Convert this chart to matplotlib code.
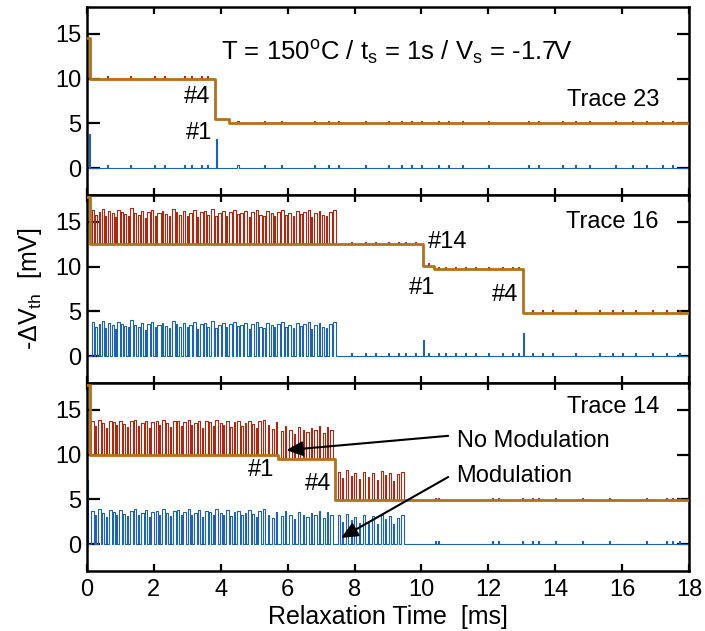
import numpy as np
import matplotlib.pyplot as plt

plt.rcParams['font.family'] = ['Liberation Sans', 'DejaVu Sans']
plt.rcParams['mathtext.fontset'] = 'custom'
plt.rcParams['mathtext.rm'] = 'Liberation Sans'
plt.rcParams['mathtext.it'] = 'Liberation Sans'
plt.rcParams['mathtext.default'] = 'regular'

T_END = 18.0

# step fits (brown): edges [ms] and levels [mV]
t23_step_t = [0.0, 0.1, 3.83, 4.25]
t23_step_v = [14.5, 10.0, 5.5, 5.0]
t16_step_t = [0.0, 0.1, 10.05, 10.38, 13.05]
t16_step_v = [17.8, 12.5, 10.1, 9.7, 4.8]
t14_step_t = [0.0, 0.1, 5.7, 7.42]
t14_step_v = [17.8, 10.0, 9.5, 4.9]

# telegraph pulses (high state start / end) [ms]
t16_on = [0.15, 0.25, 0.36, 0.44, 0.55, 0.63, 0.74, 0.84, 0.90, 1.02, 1.10, 1.22,
          1.30, 1.41, 1.52, 1.61, 1.73, 1.80, 1.92, 2.02, 2.10, 2.24, 2.33, 2.45,
          2.53, 2.66, 2.75, 2.86, 2.98, 3.06, 3.18, 3.30, 3.37, 3.50, 3.60, 3.71,
          3.84, 3.93, 4.04, 4.17, 4.25, 4.38, 4.49, 4.58, 4.70, 4.83, 4.91, 5.05,
          5.15, 5.27, 5.36, 5.50, 5.60, 5.68, 5.81, 5.93, 6.02, 6.15, 6.24, 6.38,
          6.47, 6.60, 6.71, 6.79, 6.93, 7.03, 7.15, 7.24, 7.36]
t16_off = [0.22, 0.31, 0.40, 0.52, 0.58, 0.70, 0.80, 0.86, 0.98, 1.07, 1.18, 1.25,
           1.38, 1.46, 1.57, 1.68, 1.75, 1.88, 1.98, 2.05, 2.20, 2.28, 2.40, 2.49,
           2.62, 2.70, 2.81, 2.94, 3.02, 3.14, 3.25, 3.33, 3.46, 3.56, 3.66, 3.80,
           3.88, 4.00, 4.12, 4.20, 4.33, 4.45, 4.53, 4.66, 4.78, 4.86, 5.00, 5.10,
           5.22, 5.31, 5.45, 5.56, 5.63, 5.76, 5.88, 5.97, 6.10, 6.19, 6.33, 6.42,
           6.55, 6.66, 6.74, 6.88, 6.98, 7.10, 7.19, 7.32, 7.45]
# pulse-to-pulse height deviation [mV]
t16_dh = [0.3, -0.2, 0.1, 0.4, -0.4, 0.2, 0.0, -0.5, 0.3, 0.1,
          -0.1, -0.3, 0.5, 0.0, -0.2, 0.2, -0.6, 0.1, 0.3, -0.3,
          0.0, 0.2, -0.1, -0.4, 0.4, 0.1, -0.2, 0.2, -0.3, 0.0,
          0.3, -0.5, 0.1, 0.2, -0.2, 0.4, -0.4, 0.0, 0.2, -0.3,
          0.1, 0.3, -0.1, 0.0, 0.2, -0.5, 0.1, 0.3, -0.2, -0.4,
          0.2, 0.0, -0.3, 0.1, 0.3, -0.2, 0.0, -0.4, 0.2, -0.1,
          0.1, 0.3, -0.5, 0.0, 0.2, -0.2, -0.4, 0.1, 0.3]

t14_on = [0.12, 0.24, 0.33, 0.45, 0.57, 0.65, 0.78, 0.88, 0.96, 1.09, 1.20, 1.28,
          1.41, 1.52, 1.60, 1.73, 1.84, 1.92, 2.05, 2.16, 2.24, 2.37, 2.48, 2.56,
          2.69, 2.80, 2.88, 3.01, 3.12, 3.20, 3.33, 3.44, 3.52, 3.65, 3.76, 3.84,
          3.97, 4.08, 4.16, 4.29, 4.40, 4.48, 4.61, 4.72, 4.80, 4.93, 5.04, 5.12,
          5.25, 5.40, 5.52, 5.66, 5.80, 5.93, 6.05, 6.20, 6.30, 6.45, 6.55, 6.70,
          6.80, 6.95, 7.05, 7.18, 7.28, 7.50, 7.62, 7.74, 7.88, 7.98, 8.14, 8.26,
          8.40, 8.52, 8.66, 8.78, 8.92, 9.02, 9.15, 9.26, 9.40]
t14_off = [0.20, 0.27, 0.41, 0.52, 0.60, 0.74, 0.83, 0.91, 1.05, 1.15, 1.23, 1.37,
           1.47, 1.55, 1.69, 1.79, 1.87, 2.01, 2.11, 2.19, 2.33, 2.43, 2.51, 2.65,
           2.75, 2.83, 2.97, 3.07, 3.15, 3.29, 3.39, 3.47, 3.61, 3.71, 3.79, 3.93,
           4.03, 4.11, 4.25, 4.35, 4.43, 4.57, 4.67, 4.75, 4.89, 4.99, 5.07, 5.21,
           5.31, 5.43, 5.60, 5.69, 5.85, 5.96, 6.12, 6.23, 6.38, 6.48, 6.63, 6.73,
           6.88, 6.98, 7.12, 7.21, 7.36, 7.55, 7.66, 7.80, 7.91, 8.05, 8.17, 8.32,
           8.43, 8.58, 8.69, 8.84, 8.95, 9.08, 9.18, 9.32, 9.48]
t14_dh = [0.2, -0.3, 0.4, 0.0, -0.5, 0.3, 0.1, -0.2, 0.3, -0.1,
          -0.4, 0.2, 0.4, -0.3, 0.0, 0.3, -0.5, 0.1, 0.2, -0.2,
          0.4, 0.0, -0.4, 0.2, 0.3, -0.3, 0.1, 0.4, -0.2, 0.0,
          0.3, -0.5, 0.2, 0.1, -0.3, 0.4, 0.0, -0.2, 0.3, -0.4,
          0.1, 0.2, -0.3, 0.0, 0.3, -0.1, -0.5, 0.2, 0.4, -0.2,
          -0.6, 0.1, -0.4, 0.2, -0.3, -0.7, 0.1, -0.2, -0.5, 0.0,
          -0.3, 0.2, -0.6, 0.1, -0.2, 0.3, -0.4, 0.5, -0.2, 0.1,
          -0.5, 0.3, -0.3, 0.2, -0.6, 0.4, -0.1, 0.2, -0.7, 0.0,
          0.3]

# mean pulse amplitude [mV], changes at given times
t16_amp_t, t16_amp_v = [0.0], [3.5]
t14_amp_t, t14_amp_v = [0.0, 7.42], [3.5, 2.9]

# small noise blips [ms]
t23_blips = [0.6, 1.3, 2.0, 2.3, 2.9, 3.1, 3.4, 3.6, 4.5, 5.3, 5.8, 6.8, 7.2, 7.5,
             8.3, 9.0, 9.4, 9.7, 10.0, 10.5, 10.8, 11.2, 12.0, 13.2, 13.5, 14.2,
             14.6, 15.0, 15.8, 16.3, 16.7, 17.2, 17.5]
t16_blips = [7.9, 8.3, 8.6, 9.0, 9.3, 9.5, 9.8, 10.2, 10.5, 10.7, 11.0, 11.3, 11.6,
             12.0, 12.4, 12.7, 12.9, 13.3, 13.6, 13.9, 14.6, 15.3, 15.7, 16.0,
             16.4, 16.9, 17.3, 17.7]
t14_blips = [10.4, 10.5, 12.1, 12.3, 13.0, 13.3, 13.5, 14.0, 14.8, 15.6, 16.7,
             17.3, 17.5, 17.7]
BLIP_H = 0.3

# single spikes in the modulated (blue) trace: time [ms], height [mV]
t23_spike_t, t23_spike_v = [0.05, 3.85], [3.8, 3.3]
t16_spike_t, t16_spike_v = [10.05, 13.05], [1.8, 2.6]
t14_spike_t, t14_spike_v = [0.0], [7.2]

C_BROWN = '#b5701c'
C_RED = '#a62a14'
C_BLUE = '#2163a8'


def level_at(t, edges, values):
    i = np.searchsorted(edges, t, side='right') - 1
    return np.asarray(values)[np.clip(i, 0, len(values) - 1)]


def pulse_index(t, starts, ends):
    # index of the pulse covering each t, -1 where low
    starts = np.asarray(starts, dtype=float)
    ends = np.asarray(ends, dtype=float)
    res = np.full(len(t), -1)
    if len(starts) == 0:
        return res
    i = np.searchsorted(starts, t, side='right') - 1
    ok = i >= 0
    hit = np.zeros(len(t), dtype=bool)
    hit[ok] = t[ok] < ends[i[ok]]
    res[hit] = i[hit]
    return res


def build(step_t, step_v, on, off, dh, amp_t, amp_v, blips, spk_t, spk_v):
    bw = 0.03
    blips = np.asarray(blips, dtype=float)
    spk_t = np.asarray(spk_t, dtype=float)
    t = np.unique(np.concatenate([[0.0, T_END], step_t, on, off, blips, blips + bw,
                                  spk_t, spk_t + bw]))
    idx = pulse_index(t, on, off)
    high = idx >= 0
    rtn = np.zeros(len(t))
    rtn[high] = level_at(t[high], amp_t, amp_v) + np.asarray(dh)[idx[high]]
    rtn += (pulse_index(t, blips, blips + bw) >= 0) * BLIP_H
    red = level_at(t, step_t, step_v) + rtn
    blue = rtn.copy()
    for st, sv in zip(spk_t, spk_v):
        blue[(t >= st) & (t < st + bw)] += sv
    return t, red, blue


traces = [
    (t23_step_t, t23_step_v, [], [], [], [0.0], [0.0], t23_blips,
     t23_spike_t, t23_spike_v),
    (t16_step_t, t16_step_v, t16_on, t16_off, t16_dh, t16_amp_t, t16_amp_v,
     t16_blips, t16_spike_t, t16_spike_v),
    (t14_step_t, t14_step_v, t14_on, t14_off, t14_dh, t14_amp_t, t14_amp_v,
     t14_blips, t14_spike_t, t14_spike_v),
]

fig, axes = plt.subplots(3, 1, sharex=True, figsize=(7.05, 6.31), dpi=100)
fig.subplots_adjust(left=0.1234, right=0.9773, top=0.9889, bottom=0.0951, hspace=0)

for ax, tr in zip(axes, traces):
    t, red, blue = build(*tr)
    ax.plot(t, red, drawstyle='steps-post', color=C_RED, lw=0.8, zorder=2)
    ax.step(list(tr[0]) + [T_END], list(tr[1]) + [tr[1][-1]], where='post',
            color=C_BROWN, lw=2.0, zorder=3)
    ax.plot(t, blue, drawstyle='steps-post', color=C_BLUE, lw=0.8, zorder=2)
    ax.set_xlim(0, 18)
    ax.set_ylim(-3, 18)
    ax.set_yticks([0, 5, 10, 15])
    ax.set_xticks(np.arange(0, 19, 2))
    ax.tick_params(axis='y', direction='in', length=9, width=1.6, right=True,
                   labelsize=17, pad=4)
    ax.tick_params(axis='x', direction='in', length=5, width=1.6, top=True,
                   labelsize=17, pad=6)
    for s in ax.spines.values():
        s.set_linewidth(1.8)

a1, a2, a3 = axes
fs = 17
a1.text(4.0, 12.9, r'T = 150$^{o}$C / t$_{s}$ = 1s / V$_{s}$ = -1.7V', fontsize=18.5,
        va='center', ha='left')
a1.text(17.1, 7.6, 'Trace 23', fontsize=fs, ha='right', va='center')
a1.text(3.7, 7.9, '#4', fontsize=fs, ha='right', va='center')
a1.text(3.75, 3.9, '#1', fontsize=fs, ha='right', va='center')

a2.text(17.1, 15.0, 'Trace 16', fontsize=fs, ha='right', va='center')
a2.text(10.2, 12.8, '#14', fontsize=fs, ha='left', va='center')
a2.text(10.4, 7.6, '#1', fontsize=fs, ha='right', va='center')
a2.text(12.9, 6.8, '#4', fontsize=fs, ha='right', va='center')

a3.text(17.1, 15.3, 'Trace 14', fontsize=fs, ha='right', va='center')
a3.text(5.6, 8.3, '#1', fontsize=fs, ha='right', va='center')
a3.text(7.3, 6.7, '#4', fontsize=fs, ha='right', va='center')
a3.text(11.05, 11.5, 'No Modulation', fontsize=fs, ha='left', va='center')
a3.text(11.05, 7.6, 'Modulation', fontsize=fs, ha='left', va='center')
arrow = dict(arrowstyle='-|>,head_length=1.0,head_width=0.45', color='black', lw=1.5,
             shrinkA=0, shrinkB=0)
a3.annotate('', xy=(5.96, 10.5), xytext=(10.8, 12.1), arrowprops=arrow, zorder=5)
a3.annotate('', xy=(7.6, 0.7), xytext=(10.8, 7.5), arrowprops=arrow, zorder=5)

a2.set_ylabel(r'-$\Delta$V$_{th}$  [mV]', fontsize=18, labelpad=8)
a3.set_xlabel('Relaxation Time  [ms]', fontsize=18, labelpad=3)

fig.savefig('out.png', dpi=100)
